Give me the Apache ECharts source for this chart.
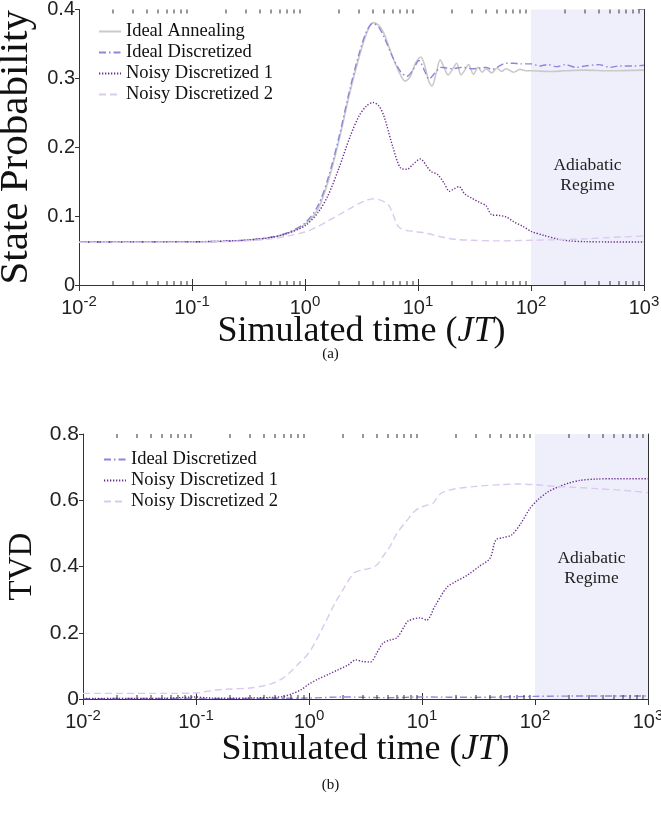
<!DOCTYPE html>
<html>
<head>
<meta charset="utf-8">
<script src="https://cdn.jsdelivr.net/npm/echarts@6/dist/echarts.min.js"></script>
<style>html,body{margin:0;padding:0;background:#fff;}#c{width:661px;height:813px;}</style>
</head>
<body>
<div id="c"></div>
<script>
// ---------- data: panel (a) State Probability ----------
const annealX = [0.01,0.1,0.2,0.3,0.5,0.7,1.0,1.3,1.6,2.0,2.5,3.0,3.5,4.0,4.5,5.0,6.0,7.0,7.7,8.5,9.5,10.6,11.5,12.5,13.3,14.5,15.7,17,18.5,20,22,24,26,28,31,34,37,40,45,50,55,60,70,80,90,100,150,200,300,500,1000];
const annealY = [0.0625,0.0627,0.0635,0.065,0.069,0.075,0.088,0.11,0.15,0.21,0.28,0.33,0.365,0.381,0.377,0.365,0.33,0.305,0.296,0.302,0.322,0.331,0.318,0.295,0.289,0.308,0.327,0.316,0.305,0.312,0.322,0.305,0.312,0.320,0.306,0.316,0.309,0.314,0.308,0.315,0.310,0.314,0.309,0.313,0.311,0.311,0.310,0.311,0.312,0.311,0.312];

const idealX = [0.01,0.1,0.2,0.3,0.5,0.7,1.0,1.3,1.6,2.0,2.5,3.0,3.5,4.0,4.5,5.0,6.0,7.0,8.0,9.0,10.2,11.5,12.5,14,16,18,20,25,30,35,40,45,50,60,70,80,100,120,140,170,200,250,300,400,500,600,800,1000];
const idealY = [0.0625,0.0628,0.0636,0.0652,0.0695,0.076,0.09,0.115,0.155,0.215,0.285,0.335,0.368,0.380,0.374,0.36,0.33,0.31,0.303,0.312,0.326,0.31,0.299,0.307,0.316,0.315,0.314,0.316,0.314,0.315,0.316,0.313,0.316,0.322,0.322,0.321,0.321,0.318,0.320,0.317,0.320,0.316,0.318,0.320,0.316,0.318,0.318,0.319];

const noisy1X = [0.01,0.1,0.3,0.5,0.7,1.0,1.3,1.6,2.0,2.5,3.0,3.5,4.0,4.5,5.0,6.0,7.0,8.0,9,10.5,12,13,15,17,19,21,23,26,30,35,40,45,52,60,70,85,100,130,170,220,300,500,1000];
const noisy1Y = [0.0625,0.0628,0.065,0.069,0.075,0.086,0.105,0.13,0.17,0.215,0.245,0.26,0.265,0.26,0.245,0.2,0.17,0.168,0.175,0.183,0.172,0.165,0.16,0.148,0.136,0.14,0.143,0.132,0.126,0.12,0.115,0.102,0.101,0.099,0.092,0.085,0.078,0.072,0.067,0.064,0.063,0.0625,0.0625];

const noisy2X = [0.01,0.1,0.2,0.3,0.5,0.7,1.0,1.3,1.6,2.0,2.5,3.0,3.5,4.0,4.5,5.0,5.5,6.0,6.5,7.0,8,9,10,12,15,18,22,30,50,100,200,300,500,1000];
const noisy2Y = [0.062,0.0622,0.063,0.064,0.067,0.071,0.077,0.085,0.093,0.102,0.111,0.118,0.123,0.125,0.124,0.121,0.116,0.103,0.088,0.082,0.079,0.078,0.077,0.075,0.071,0.068,0.066,0.065,0.064,0.065,0.066,0.067,0.069,0.071];

// ---------- data: panel (b) TVD ----------
const tvdIdealX = [0.01,0.1,0.3,1,2,5,10,30,100,300,1000];
const tvdIdealY = [0.001,0.002,0.002,0.003,0.006,0.004,0.006,0.005,0.008,0.009,0.009];

const tvdNoisy1X = [0.01,0.05,0.1,0.13,0.2,0.3,0.5,0.6,0.7,0.85,1.0,1.2,1.5,1.8,2.2,2.6,3.0,3.5,4.0,4.5,5.2,6.0,7.0,7.5,9.6,11,13,16.6,20,25,32,40,45,52,62,75,90,105,130,160,200,250,350,500,1000];
const tvdNoisy1Y = [0.002,0.002,0.006,0.003,0.002,0.003,0.005,0.008,0.015,0.028,0.045,0.06,0.075,0.088,0.102,0.118,0.113,0.112,0.14,0.168,0.178,0.185,0.22,0.235,0.245,0.238,0.28,0.337,0.355,0.373,0.4,0.425,0.48,0.487,0.495,0.53,0.575,0.6,0.625,0.64,0.652,0.66,0.664,0.665,0.665];

const tvdNoisy2X = [0.01,0.05,0.1,0.12,0.15,0.2,0.3,0.4,0.5,0.6,0.7,0.8,1.0,1.3,1.7,2.0,2.5,3.0,3.5,4.0,4.5,5.2,6,7.4,8.5,9.6,11,12.5,14,16,20,30,50,70,100,150,200,350,600,1000];
const tvdNoisy2Y = [0.017,0.017,0.018,0.022,0.027,0.03,0.033,0.04,0.05,0.065,0.085,0.105,0.14,0.21,0.29,0.33,0.38,0.39,0.395,0.405,0.43,0.46,0.5,0.54,0.565,0.578,0.585,0.59,0.615,0.627,0.635,0.642,0.647,0.649,0.647,0.642,0.64,0.635,0.63,0.623];

// ---------- axis tick values / texts ----------
const decadeExps = [-2,-1,0,1,2];
const minorMultipliers = [2,3,4,5,6,7,8,9];
const legendTop = ['Ideal Annealing','Ideal Discretized','Noisy Discretized 1','Noisy Discretized 2'];
const legendBottom = ['Ideal Discretized','Noisy Discretized 1','Noisy Discretized 2'];
const regionLabel = 'Adiabatic\nRegime';

const zip = (xs, ys) => xs.map((x, i) => [x, ys[i]]);
const minorTickX = [];
decadeExps.forEach(e => minorMultipliers.forEach(m => minorTickX.push(m * Math.pow(10, e))));

const C_ANNEAL = '#c9c9c9', C_IDEAL = '#8b87dc', C_N1 = '#6b2d8f', C_N2 = '#dbc9ee';
const AX = '#333';
const SERIF = 'Liberation Serif';
const SANS = 'Liberation Sans';

function xAxes(grid, gap) {
  const base = {
    gridIndex: grid, type: 'log', logBase: 10, min: 0.01, max: 1000, splitNumber: 5,
    axisLine: {show: true, lineStyle: {color: AX, width: 1}},
    axisTick: {show: true, inside: true, length: 6, lineStyle: {color: AX}},
    splitLine: {show: false}
  };
  return [
    Object.assign({}, base, {
      position: 'bottom',
      axisLabel: {
        margin: 9, color: '#222',
        formatter: v => '{b|10}{s|' + Math.round(Math.log10(v)) + '}',
        rich: {
          b: {fontFamily: SANS, fontSize: 20, color: '#222', lineHeight: 24, verticalAlign: 'bottom'},
          s: {fontFamily: SANS, fontSize: 15, color: '#222', lineHeight: 24, verticalAlign: 'top', padding: [0,0,9,0]}
        }
      },
      name: '{r|Simulated time (}{i|JT}{r|)}',
      nameLocation: 'middle', nameGap: gap, nameMoveOverlap: false,
      nameTextStyle: {
        rich: {
          r: {fontFamily: SERIF, fontSize: 36, color: '#111'},
          i: {fontFamily: SERIF, fontSize: 36, fontStyle: 'italic', color: '#111'}
        }
      }
    }),
    Object.assign({}, base, {position: 'top', axisLabel: {show: false}})
  ];
}

function yAxes(grid, max, interval, name, gap, nameSize, labelSize) {
  return [
    {
      gridIndex: grid, type: 'value', min: 0, max: max, interval: interval, position: 'left',
      axisLine: {show: true, lineStyle: {color: AX}},
      axisTick: {show: true, inside: false, length: 4, lineStyle: {color: AX}},
      splitLine: {show: false},
      axisLabel: {fontFamily: SANS, fontSize: labelSize, color: '#222', margin: 4},
      name: name, nameLocation: 'middle', nameGap: gap, nameRotate: 90,
      nameTextStyle: {fontFamily: SERIF, fontSize: nameSize, color: '#111'}
    },
    {
      gridIndex: grid, type: 'value', min: 0, max: max, interval: interval, position: 'right',
      axisLine: {show: true, lineStyle: {color: AX}},
      axisTick: {show: true, inside: true, length: 6, lineStyle: {color: AX}},
      splitLine: {show: false}, axisLabel: {show: false}
    }
  ];
}

function lineSeries(name, data, xi, yi, color, type, width) {
  return {
    name: name, type: 'line', xAxisIndex: xi, yAxisIndex: yi, data: data,
    symbol: 'none', smooth: 0.3, color: color,
    itemStyle: {color: color, opacity: 0},
    lineStyle: {color: color, width: width, type: type}
  };
}

// minor ticks of the log axes: one custom series per edge
function minorTickSeries(xi, yi, yEdge, dir) {
  return {
    type: 'custom', xAxisIndex: xi, yAxisIndex: yi, silent: true, z: 10, clip: false,
    data: minorTickX.map(x => [x, yEdge]),
    encode: {x: 0, y: 1},
    renderItem: (params, api) => {
      const p = api.coord([api.value(0), api.value(1)]);
      return {
        type: 'rect',
        shape: {x: Math.round(p[0]) - 0.5, y: dir > 0 ? p[1] : p[1] - 4, width: 1, height: 4},
        style: {fill: AX}
      };
    }
  };
}

function regionSeries(xi, yi, offsetY) {
  return {
    type: 'line', xAxisIndex: xi, yAxisIndex: yi, data: [], silent: true, z: 0,
    markArea: {
      silent: true,
      itemStyle: {color: '#efeffc'},
      label: {show: true, position: 'inside', formatter: regionLabel, fontFamily: SERIF, fontSize: 17.5, color: '#222', lineHeight: 20, offset: [0, offsetY]},
      data: [[{xAxis: 100}, {xAxis: 1000}]]
    }
  };
}

const DASHDOT = [7, 3, 1.5, 3];
const DOT = [1.3, 1.7];
const DASH = [7, 4];

const legendCommon = {
  orient: 'vertical', itemWidth: 22, itemHeight: 14, itemGap: 2, padding: 0, selectedMode: false,
  itemStyle: {opacity: 0},
  textStyle: {fontFamily: SERIF, fontSize: 18.5, lineHeight: 18, color: '#111'}
};

const option = {
  animation: false,
  backgroundColor: '#fff',
  title: [
    {text: '(a)', left: 'center', top: 342, textStyle: {fontFamily: SERIF, fontSize: 15, fontWeight: 'normal', color: '#111'}},
    {text: '(b)', left: 'center', top: 773, textStyle: {fontFamily: SERIF, fontSize: 15, fontWeight: 'normal', color: '#111'}}
  ],
  grid: [
    {left: 79, right: 17, top: 9.5, height: 275.5, containLabel: false, outerBoundsMode: 'none'},
    {left: 83, right: 13, top: 434, height: 265, containLabel: false, outerBoundsMode: 'none'}
  ],
  legend: [
    Object.assign({}, legendCommon, {data: legendTop, left: 98, top: 22}),
    Object.assign({}, legendCommon, {data: legendBottom, left: 103, top: 450})
  ],
  xAxis: [].concat(xAxes(0, 29), xAxes(1, 33)),
  yAxis: [].concat(yAxes(0, 0.4, 0.1, 'State Probability', 33, 41, 20), yAxes(1, 0.8, 0.2, 'TVD', 41, 33, 21)),
  series: [
    regionSeries(0, 0, 28),
    lineSeries('Ideal Annealing', zip(annealX, annealY), 0, 0, C_ANNEAL, 'solid', 1.6),
    lineSeries('Ideal Discretized', zip(idealX, idealY), 0, 0, C_IDEAL, DASHDOT, 1.4),
    lineSeries('Noisy Discretized 1', zip(noisy1X, noisy1Y), 0, 0, C_N1, DOT, 1.4),
    lineSeries('Noisy Discretized 2', zip(noisy2X, noisy2Y), 0, 0, C_N2, DASH, 1.4),
    minorTickSeries(0, 0, 0, -1),
    minorTickSeries(0, 0, 0.4, 1),
    regionSeries(2, 2, 2),
    lineSeries('Ideal Discretized', zip(tvdIdealX, tvdIdealY), 2, 2, C_IDEAL, DASHDOT, 1.4),
    lineSeries('Noisy Discretized 1', zip(tvdNoisy1X, tvdNoisy1Y), 2, 2, C_N1, DOT, 1.4),
    lineSeries('Noisy Discretized 2', zip(tvdNoisy2X, tvdNoisy2Y), 2, 2, C_N2, DASH, 1.4),
    minorTickSeries(2, 2, 0, -1),
    minorTickSeries(2, 2, 0.8, 1)
  ]
};

const chart = echarts.init(document.getElementById('c'), null, {renderer: 'canvas'});
chart.setOption(option);
</script>
</body>
</html>
